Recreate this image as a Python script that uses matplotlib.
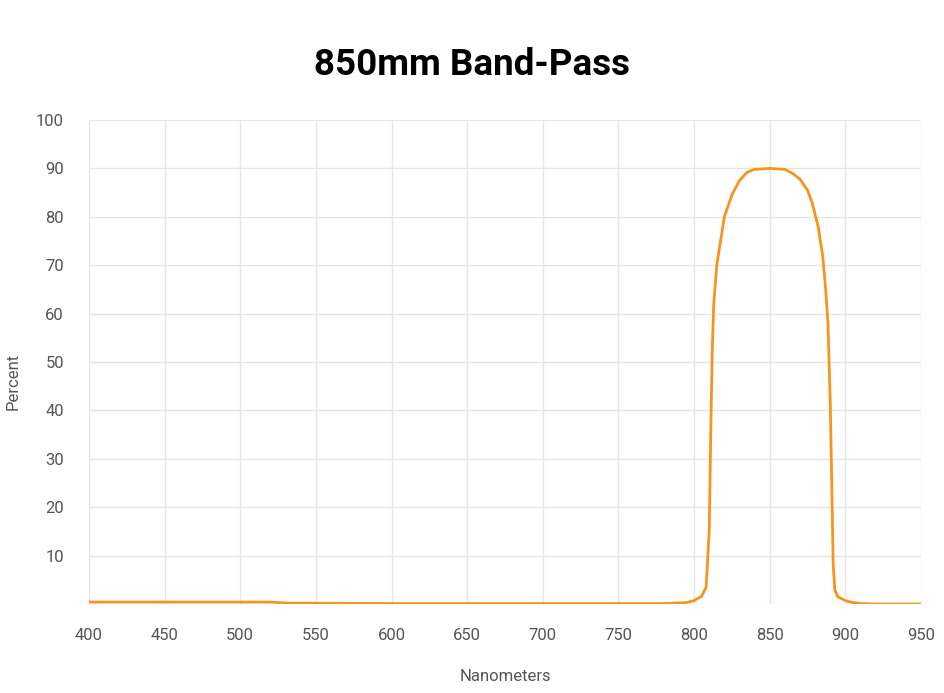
import matplotlib.pyplot as plt

# transmission curve
nm = [400, 450, 500, 520, 530, 600, 700, 780, 795, 800, 805, 808, 810, 811, 812, 813,
      815, 818, 820, 825, 830, 835, 840, 850, 860, 865, 870, 875, 878, 882, 885, 887,
      888.5, 890, 891, 892, 893, 895, 900, 905, 910, 920, 950]
pct = [0.4, 0.4, 0.4, 0.4, 0.2, 0.1, 0.1, 0.1, 0.3, 0.7, 1.6, 3.5, 15, 35, 52, 62,
       70, 76, 80, 84.5, 87.5, 89.2, 89.8, 90, 89.8, 89, 87.8, 85.5, 83, 78, 72, 65,
       58, 42, 25, 8, 3, 1.5, 0.7, 0.3, 0.1, 0.0, 0.0]

xticks = [400, 450, 500, 550, 600, 650, 700, 750, 800, 850, 900, 950]
yticks = [10, 20, 30, 40, 50, 60, 70, 80, 90, 100]

plt.rcParams['font.family'] = ['Roboto', 'DejaVu Sans']

fig = plt.figure(figsize=(9.44, 6.93), dpi=100)
ax = fig.add_axes([0.0943, 0.1284, 0.8813, 0.6984])

ax.plot(nm, pct, color='#f7941d', lw=2.0, solid_capstyle='round', zorder=3)

ax.set_xlim(400, 950)
ax.set_ylim(0, 100)
ax.set_xticks(xticks)
ax.set_yticks(yticks)
ax.grid(True, color='#e6e6e6', lw=1.0)
ax.axhline(0, color='#e6e6e6', lw=1.0, zorder=1)
for s in ax.spines.values():
    s.set_visible(False)
ax.tick_params(length=0, labelsize=12, labelcolor='#555555')
ax.tick_params(axis='x', pad=17)
ax.tick_params(axis='y', pad=18)

ax.set_xlabel('Nanometers', fontsize=12, color='#555555')
ax.xaxis.set_label_coords(0.5, -0.135)
ax.set_ylabel('Percent', fontsize=12, color='#555555')
ax.yaxis.set_label_coords(-0.082, 0.46)
fig.suptitle('850mm Band-Pass', fontsize=26.5, fontweight='bold', y=0.932)

fig.savefig('out.png', dpi=100, facecolor='white')
